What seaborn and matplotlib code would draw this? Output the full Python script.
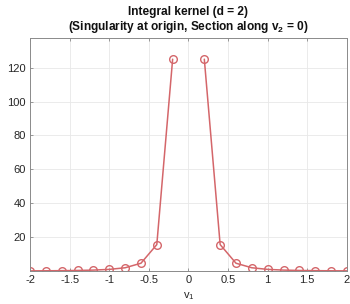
import matplotlib
matplotlib.use("Agg")
import matplotlib.pyplot as plt
import seaborn as sns
import pandas as pd

sns.set_theme(style="white")
plt.rcParams['font.family'] = ['Liberation Sans', 'DejaVu Sans']
plt.rcParams['mathtext.fontset'] = 'custom'
plt.rcParams['mathtext.rm'] = 'Liberation Sans'
plt.rcParams['mathtext.bf'] = 'Liberation Sans:bold'

v1_left = [-2.0, -1.8, -1.6, -1.4, -1.2, -1.0, -0.8, -0.6, -0.4, -0.2]
k_left = [0.125, 0.171, 0.244, 0.364, 0.579, 1.0, 1.953, 4.63, 15.625, 125.0]
v1_right = [0.2, 0.4, 0.6, 0.8, 1.0, 1.2, 1.4, 1.6, 1.8, 2.0]
k_right = [125.0, 15.625, 4.63, 1.953, 1.0, 0.579, 0.364, 0.244, 0.171, 0.125]

xticks = [-2, -1.5, -1, -0.5, 0, 0.5, 1, 1.5, 2]
xticklabels = ["-2", "-1.5", "-1", "-0.5", "0", "0.5", "1", "1.5", "2"]
yticks = [20, 40, 60, 80, 100, 120]

df = pd.DataFrame({
    "v1": v1_left + v1_right,
    "k": k_left + k_right,
    "seg": ["L"] * len(v1_left) + ["R"] * len(v1_right),
})

fig = plt.figure(figsize=(3.5, 3.04), dpi=100)
ax = fig.add_axes([0.086, 0.109, 0.905, 0.766])
color = "#D4666A"
sns.lineplot(data=df, x="v1", y="k", units="seg", estimator=None, ax=ax,
             color=color, lw=1.1, marker="o", markersize=5.5,
             markerfacecolor="none", markeredgecolor=color, markeredgewidth=1.0)

ax.set_xlim(-2, 2)
ax.set_ylim(0.125, 137.5)
ax.set_xticks(xticks)
ax.set_xticklabels(xticklabels)
ax.set_yticks(yticks)
ax.tick_params(direction="in", length=2.5, width=0.6, labelsize=8, labelcolor="#262626",
               color="#888888", top=True, right=False, left=True, bottom=True, pad=3)
ax.grid(True, color="#E8E8E8", lw=0.6)
for s in ax.spines.values():
    s.set_color("#8A8A8A")
    s.set_linewidth(0.7)
ax.set_xlabel(r"v$_\mathregular{1}$", fontsize=8, color="#262626", labelpad=4)
ax.set_ylabel("")
ax.set_title("Integral kernel (d = 2)\n(Singularity at origin, Section along v$_\\mathbf{2}$ = 0)",
             fontsize=8.6, fontweight="bold", color="#111111", pad=6, linespacing=1.1)
fig.savefig("out.png", dpi=100)
